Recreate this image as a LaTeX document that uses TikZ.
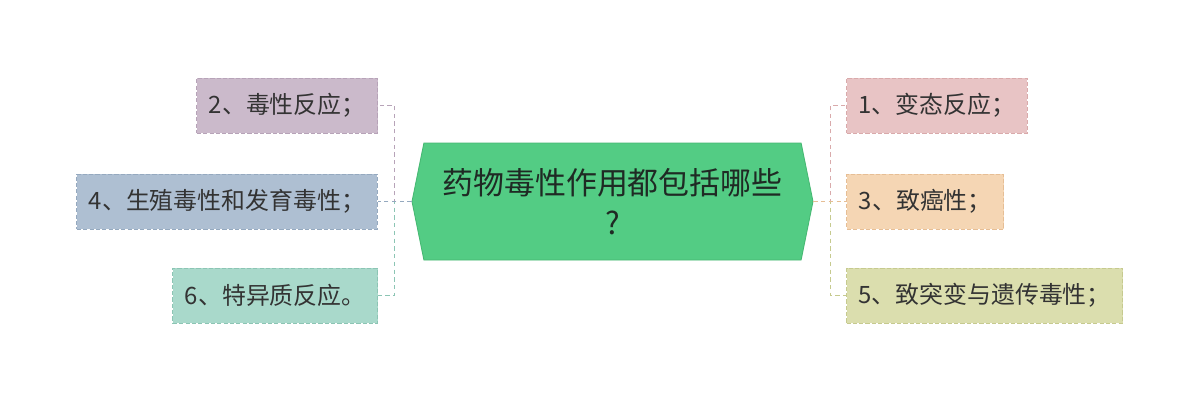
\documentclass[tikz,border=0pt]{standalone}
\usepackage{fontspec}
\newfontfamily\cjk{Noto Sans CJK SC}
\usepackage{xcolor}
\usepackage{tikz}
\usetikzlibrary{positioning, shapes.symbols}
\definecolor{topicfill}{HTML}{53CC84}
\definecolor{topicdraw}{HTML}{45B872}
\definecolor{topictext}{HTML}{1F2A24}
\definecolor{leaftext}{HTML}{333333}
\definecolor{fillone}{HTML}{E8C4C5}
\definecolor{drawone}{HTML}{D9AAAB}
\definecolor{filltwo}{HTML}{CBBACB}
\definecolor{drawtwo}{HTML}{B7A3B8}
\definecolor{fillthree}{HTML}{F5D6B4}
\definecolor{drawthree}{HTML}{E6BE95}
\definecolor{fillfour}{HTML}{AEBFD2}
\definecolor{drawfour}{HTML}{95A9BF}
\definecolor{fillfive}{HTML}{DBDEAE}
\definecolor{drawfive}{HTML}{C6CA8F}
\definecolor{fillsix}{HTML}{A9D9CB}
\definecolor{drawsix}{HTML}{8CC5B4}
\tikzset{
  topic_node/.style={signal, signal to=west and east, signal pointer angle=157, fill=topicfill, draw=topicdraw, line width=0.6pt, minimum width=10.025cm, minimum height=2.925cm, inner sep=0pt, align=center, text=topictext, font=\cjk\fontsize{22}{28}\selectfont},
  leaf_node/.style={rectangle, line width=0.7pt, dash pattern=on 3pt off 1.5pt, minimum height=1.375cm, inner xsep=0.3cm, text=leaftext, font=\cjk\fontsize{17}{20}\selectfont},
  leaf_left/.style={leaf_node, anchor=east},
  leaf_right/.style={leaf_node, anchor=west},
  link_line/.style={line width=1.3pt, dash pattern=on 3pt off 2.5pt}
}

\begin{document}
\begin{tikzpicture}[x=1cm, y=1cm]
\fill[white] (0,0) rectangle (30,-10.075);
\useasboundingbox (0,0) rectangle (30,-10.075);
% central topic
\node[topic_node] (topic) at (15.3125,-5.0375) {药物毒性作用都包括哪些\\?};
% left branches
\node[leaf_left, fill=fillfour, draw=drawfour, left=0.85cm of topic] (leaf_four) {4、生殖毒性和发育毒性；};
\node[leaf_left, fill=filltwo, draw=drawtwo] (leaf_two) at (9.45,-2.6375) {2、毒性反应；};
\node[leaf_left, fill=fillsix, draw=drawsix] (leaf_six) at (9.45,-7.3875) {6、特异质反应。};
% right branches
\node[leaf_right, fill=fillthree, draw=drawthree, right=0.825cm of topic] (leaf_three) {3、致癌性；};
\node[leaf_right, fill=fillone, draw=drawone] (leaf_one) at (21.15,-2.6375) {1、变态反应；};
\node[leaf_right, fill=fillfive, draw=drawfive] (leaf_five) at (21.15,-7.3875) {5、致突变与遗传毒性；};
% connectors
\coordinate (left_hub) at ([xshift=-0.425cm]topic.west);
\coordinate (right_hub) at ([xshift=0.425cm]topic.east);
\draw[link_line, drawtwo] (topic.west) -- (left_hub) |- (leaf_two.east);
\draw[link_line, drawsix] (topic.west) -- (left_hub) |- (leaf_six.east);
\draw[link_line, drawfour] (topic.west) -- (leaf_four.east);
\draw[link_line, drawone] (topic.east) -- (right_hub) |- (leaf_one.west);
\draw[link_line, drawfive] (topic.east) -- (right_hub) |- (leaf_five.west);
\draw[link_line, drawthree] (topic.east) -- (leaf_three.west);
\end{tikzpicture}
\end{document}
